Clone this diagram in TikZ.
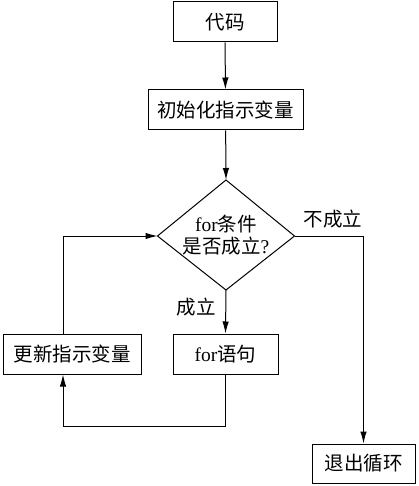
\documentclass[tikz,border=0pt]{standalone}
\usepackage{fontspec}
\setmainfont{Liberation Serif}
\newfontfamily\cjk{Noto Sans CJK SC}
\usetikzlibrary{arrows.meta}
\tikzset{
  box/.style={draw, line width=1pt, inner sep=0pt, minimum height=40pt, font=\fontsize{19.5}{23}\selectfont},
  txt/.style={inner sep=0pt, align=center, font=\fontsize{19.5}{22}\selectfont},
  lbl/.style={inner sep=0pt, font=\fontsize{19.5}{23}\selectfont},
  shapeline/.style={line width=1pt},
  arr/.style={line width=1pt, -{Latex[length=12pt,width=6.5pt]}}
}
\begin{document}
\begin{tikzpicture}[x=1pt,y=-1pt]
\useasboundingbox (0,0) rectangle (418,486);
\node[box, minimum width=104pt] (code) at (225,22) {\cjk 代码};
\node[box, minimum width=155pt] (init) at (225.5,110) {\cjk 初始化指示变量};
\node[txt] (d) at (226,235) {for{\cjk 条件}\\{\cjk 是否成立}?};
\coordinate (dn) at (226,180);
\coordinate (ds) at (226,290);
\coordinate (dw) at (157.5,236);
\coordinate (de) at (294.5,236);
\draw[shapeline] (dn) -- (de) -- (ds) -- (dw) -- cycle;
\node[box, minimum width=138pt] (up) at (72,354) {\cjk 更新指示变量};
\node[box, minimum width=105pt] (fs) at (225.5,354) {for{\cjk 语句}};
\node[box, minimum width=103pt, minimum height=39pt] (ex) at (363.5,463.5) {\cjk 退出循环};
\node[lbl] (no) at (333,219) {\cjk 不成立};
\node[lbl] (yes) at (196,307) {\cjk 成立};
\coordinate (b) at (63,426);
\draw[arr] (code) -- (init);
\draw[arr] (init) -- (dn);
\draw[arr] (ds) -- (fs.north);
\draw[arr] (de) -| (ex.north);
\draw[arr] (fs.south) |- (b) -- (b |- up.south);
\draw[arr] (b |- up.north) |- (dw);
\end{tikzpicture}
\end{document}
